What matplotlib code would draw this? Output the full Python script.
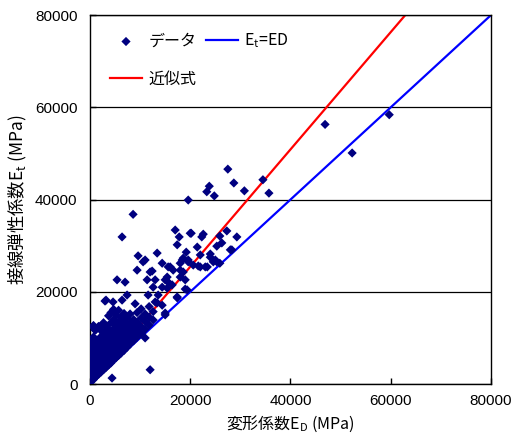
import matplotlib
matplotlib.use('Agg')
import matplotlib.pyplot as plt

# ================= data (MPa) =================
# dense cluster near the origin, column by column
ed_mpa = [
    200, 200, 200, 200, 200, 200, 200, 200, 200,
    700, 700, 700, 700, 700, 700, 700, 700, 700,
    1200, 1200, 1200, 1200, 1200, 1200, 1200, 1200,
    1700, 1700, 1700, 1700, 1700, 1700, 1700, 1700,
    2200, 2200, 2200, 2200, 2200, 2200, 2200, 2200,
    2700, 2700, 2700, 2700, 2700, 2700, 2700, 2700,
    3200, 3200, 3200, 3200, 3200, 3200, 3200, 3200,
    3700, 3700, 3700, 3700, 3700, 3700, 3700, 3700,
    4200, 4200, 4200, 4200, 4200, 4200, 4200, 4200,
    4700, 4700, 4700, 4700, 4700, 4700, 4700, 4700,
    5200, 5200, 5200, 5200, 5200, 5200, 5200,
    5700, 5700, 5700, 5700, 5700, 5700, 5700,
    6200, 6200, 6200, 6200, 6200, 6200,
    6800, 6800, 6800, 6800, 6800, 6800,
    7400, 7400, 7400, 7400, 7400,
    8000, 8000, 8000, 8000, 8000,
    8700, 8700, 8700, 8700,
    9400, 9400, 9400, 9400,
    10200, 10200, 10200, 10200,
    11000, 11000, 11000,
    11800, 11800, 11800,
    12600, 12600,
    # scattered points around the cluster
    600, 2000, 3400, 1000, 3000, 3200, 4600, 5400, 7000, 7400, 6400,
    9000, 9400, 9600, 11000, 11400, 11600, 12000, 12400, 12600, 13000,
    13400, 13400, 13600, 14400, 14400, 14400, 15000, 15000, 15000, 15400,
    15400, 15600, 15600, 16000, 16400, 16600, 17000, 17400, 17400, 17400,
    17800, 18000, 18000, 18000, 18400, 18600, 18600, 19000, 19000, 19200,
    19400, 19600, 19600, 20000, 20200, 20600, 21400, 21600, 22000, 22000,
    22300, 22600, 23000, 23400, 24000, 24000, 24600, 25000, 25300, 25300,
    25900, 25900, 26300, 27300, 28000, 28300, 29300, 11000, 12000, 4400,
    6400, 8600, 10600, 13000,
    # upper points
    19600, 23300, 23800, 24800, 27500, 28700, 30800, 34500, 35700,
    46900, 52300, 59700,
]
et_mpa = [
    500, 1500, 2600, 3800, 5000, 6200, 7400, 8600, 9500,
    1000, 2000, 3300, 4400, 5600, 6900, 8000, 10200, 12700,
    1600, 2700, 3900, 5000, 6300, 7600, 8800, 11800,
    2100, 3200, 4400, 5700, 7000, 8200, 9600, 12500,
    2600, 3700, 5000, 6200, 7500, 8900, 10300, 11600,
    3100, 4200, 5500, 6800, 8100, 9400, 10800, 13300,
    3600, 4700, 6000, 7300, 8600, 10000, 11500, 12600,
    4100, 5300, 6500, 7800, 9100, 10500, 12000, 14800,
    4600, 5800, 7100, 8400, 9700, 11100, 13300, 15500,
    5200, 6300, 7600, 8900, 10300, 11900, 14000, 16200,
    5700, 6900, 8200, 9500, 11000, 12700, 15000,
    6200, 7400, 8700, 10100, 11700, 13600, 16000,
    6700, 7900, 9300, 10800, 12400, 14500,
    7300, 8600, 10000, 11500, 13400, 15300,
    8000, 9300, 10800, 12300, 14300,
    8700, 10000, 11600, 13200, 15200,
    9400, 10800, 12500, 14000,
    10200, 11600, 13400, 15500,
    11000, 12500, 14300, 16300,
    11900, 13600, 15200,
    12800, 14500, 16800,
    13900, 15700,
    # scattered points around the cluster
    12400, 12400, 12100, 11700, 18000, 18200, 17800, 22600, 22100, 19300, 31900,
    17400, 24700, 27800, 26900, 22600, 19300, 24300, 24500, 21000, 22600,
    28400, 17600, 19300, 21000, 26200, 17100, 15400, 22600, 15000, 23200,
    20800, 25400, 22100, 25400, 21500, 24700, 33400, 30200, 18900, 18700,
    31900, 23200, 26200, 24700, 26900, 24300, 27300, 20600, 22600, 28600,
    20400, 26500, 26900, 32700, 32700, 25800, 29700, 25600, 28000, 25400,
    31900, 32500, 25400, 25400, 28200, 27500, 26500, 26900, 29900, 26500,
    32100, 26200, 30600, 33200, 29100, 29100, 31900, 10000, 3100, 1300,
    18200, 36800, 26500, 17800,
    # upper points
    39900, 41700, 42900, 40800, 46600, 43600, 41900, 44300, 41400,
    56300, 50100, 58400,
]

# Et = ED line and the fitted line
ref_x = [0, 80000]
ref_y = [0, 80000]
fit_x = [0, 62900]
fit_y = [0, 80000]

TICKS = [0, 20000, 40000, 60000, 80000]

# ================= drawing =================
plt.rcParams['font.family'] = ['Liberation Sans', 'Noto Sans CJK JP']
plt.rcParams['mathtext.fontset'] = 'custom'
plt.rcParams['mathtext.rm'] = 'Liberation Sans'
plt.rcParams['mathtext.it'] = 'Liberation Sans'

fig = plt.figure(figsize=(5.13, 4.44), dpi=100)
ax = fig.add_axes([0.1754, 0.135, 0.7817, 0.831])

ax.plot(fit_x, fit_y, color='#ff0000', lw=1.6, zorder=2, label='近似式')
ax.plot(ref_x, ref_y, color='#0000ff', lw=1.6, zorder=2,
        label=r'E$\mathregular{_t}$=ED')
ax.scatter(ed_mpa, et_mpa, marker='D', s=22, color='#000080',
           edgecolors='none', zorder=3, label='データ')

ax.set_xlim(0, 80000)
ax.set_ylim(0, 80000)
ax.set_xticks(TICKS)
ax.set_yticks(TICKS)
ax.tick_params(direction='in', length=4, width=1, labelsize=11, colors='black')
ax.tick_params(axis='y', pad=9)
ax.tick_params(axis='x', pad=7)
ax.grid(axis='y', color='black', lw=0.9)
ax.set_axisbelow(True)
for sp in ax.spines.values():
    sp.set_linewidth(1.0)
    sp.set_color('black')

ax.set_xlabel(r'変形係数E$\mathregular{_D}$ (MPa)', fontsize=11.5,
              family='Noto Sans CJK JP', labelpad=4)
ax.set_ylabel(r'接線弾性係数E$\mathregular{_t}$ (MPa)', fontsize=12.5,
              family='Noto Sans CJK JP', labelpad=4)

h, l = ax.get_legend_handles_labels()
order = [2, 0, 1]
ax.legend([h[i] for i in order], [l[i] for i in order], ncol=2, frameon=False,
          loc='upper left', bbox_to_anchor=(0.05, 0.955), borderpad=0,
          borderaxespad=0, handlelength=2.0, handletextpad=0.4,
          columnspacing=0.6, labelspacing=1.3,
          prop={'family': 'Noto Sans CJK JP', 'size': 11.5})

plt.savefig('out.png', dpi=100)
